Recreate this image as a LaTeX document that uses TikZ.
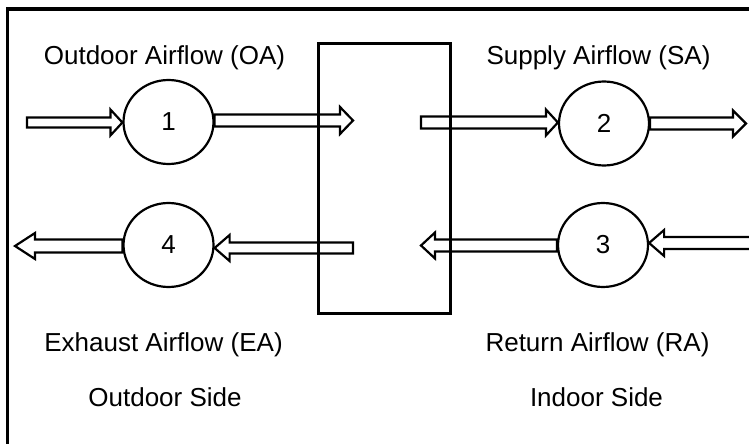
\documentclass[tikz,border=0pt]{standalone}
\usepackage{fontspec}
\setmainfont{Liberation Sans}
\usetikzlibrary{shapes.geometric,calc}
\tikzset{
  fan/.style={draw, ellipse, fill=white, line width=2.2pt, minimum width=90pt, minimum height=84pt, inner sep=0pt, font=\fontsize{26}{30}\selectfont},
  lbl/.style={anchor=base, inner sep=0pt, font=\fontsize{26}{30}\selectfont},
  flow/.style={draw, fill=white, line width=2.2pt, line join=miter},
  core/.style={draw, line width=3pt, inner sep=0pt, minimum width=132pt, minimum height=269.5pt},
  frame/.style={draw, line width=3.2pt}
}
% tail, tip, shaft half, head half, head length
\newcommand\blockarr[5]{%
  \path[flow] let \p1=(#1), \p2=(#2), \n1={ifthenelse(\x2>\x1,1,-1)} in
    (\x1,\y1+#3pt) -- (\x2-\n1*#5pt,\y1+#3pt) -- (\x2-\n1*#5pt,\y1+#4pt) --
    (\x2,\y1) -- (\x2-\n1*#5pt,\y1-#4pt) -- (\x2-\n1*#5pt,\y1-#3pt) --
    (\x1,\y1-#3pt) -- cycle;}
\begin{document}
\begin{tikzpicture}[x=1pt,y=-1pt]
\useasboundingbox (0,0) rectangle (749,444);
\clip (0,0) rectangle (749,444);
\draw[frame] (7.5,9) rectangle (800,500);

\node[fan] (c1) at (168.5,122) {1};
\node[fan] (c2) at (604,123.5) {2};
\node[fan] (c4) at (168.5,245) {4};
\node[fan] (c3) at (603,245) {3};

\coordinate (a1t) at (27,122.5);
\coordinate (a1o) at (353,120.5);
\coordinate (a2t) at (421,122.5);
\coordinate (a2o) at (746,123.5);
\coordinate (a4o) at (15,246);
\coordinate (a4t) at (353,248);
\coordinate (a3o) at (421,245.5);
\coordinate (a3t) at (770,243);
\coordinate (c1e) at (c1.east|-a1o);
\coordinate (c2e) at (c2.east|-a2o);
\coordinate (c4w) at (c4.west|-a4o);
\coordinate (c3w) at (c3.west|-a3o);

\blockarr{a1t}{c1.west}{5}{13}{12}
\blockarr{c1e}{a1o}{6}{13.5}{13}
\blockarr{a2t}{c2.west}{6}{13}{12}
\blockarr{c2e}{a2o}{6}{13}{13}
\blockarr{c4w}{a4o}{6.5}{13}{20}
\blockarr{a4t}{c4.east}{5.5}{13}{15}
\blockarr{c3w}{a3o}{6}{13}{14}
\blockarr{a3t}{c3.east}{6}{13}{15}

\node[core] (hx) at (384,178.25) {};

\node[lbl] (oa) at (164.5,64) {Outdoor Airflow (OA)};
\node[lbl] (sa) at (598.5,64) {Supply Airflow (SA)};
\node[lbl] (ea) at (163.5,351) {Exhaust Airflow (EA)};
\node[lbl] (ra) at (597.5,351) {Return Airflow (RA)};
\node[lbl] (os) at (165,406) {Outdoor Side};
\node[lbl] (is) at (596.5,406) {Indoor Side};
\end{tikzpicture}
\end{document}
